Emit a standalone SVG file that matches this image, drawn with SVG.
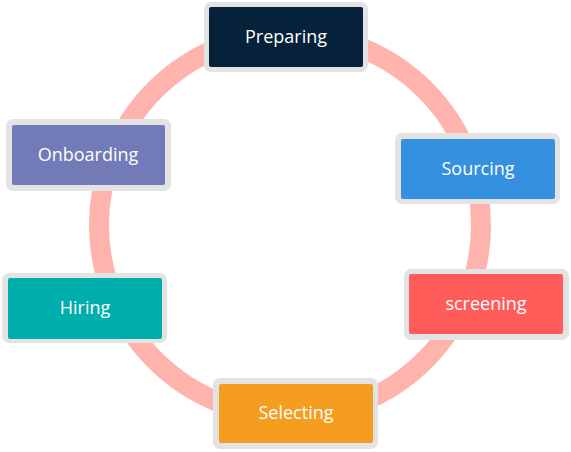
<svg xmlns="http://www.w3.org/2000/svg" width="571" height="452" viewBox="0 0 571 452">
<style>
.frame{fill:#e3e3e3}
.lbl{font-family:"Open Sans","Liberation Sans",sans-serif;font-size:18px;fill:#ffffff;text-anchor:middle}
</style>
<rect width="571" height="452" fill="#ffffff"/>
<g id="connectors">
<circle cx="290" cy="225" r="191" fill="none" stroke="#ffb3ad" stroke-width="20"/>
</g>
<g id="preparing">
<rect class="frame" x="204" y="2" width="164" height="70" rx="7"/>
<rect x="209" y="7" width="154" height="60" rx="2" fill="#06223b"/>
<text class="lbl" x="286" y="43">Preparing</text>
</g>
<g id="sourcing">
<rect class="frame" x="395" y="133" width="165" height="71" rx="7"/>
<rect x="401" y="139" width="154" height="60" rx="2" fill="#3590e0"/>
<text class="lbl" x="478" y="175">Sourcing</text>
</g>
<g id="screening">
<rect class="frame" x="404" y="269" width="165" height="71" rx="7"/>
<rect x="409" y="274" width="154" height="60" rx="2" fill="#ff5b59"/>
<text class="lbl" x="486" y="310">screening</text>
</g>
<g id="selecting">
<rect class="frame" x="213" y="378" width="165" height="71" rx="7"/>
<rect x="219" y="384" width="154" height="59" rx="2" fill="#f49d1e"/>
<text class="lbl" x="296" y="419">Selecting</text>
</g>
<g id="hiring">
<rect class="frame" x="2" y="273" width="165" height="70" rx="7"/>
<rect x="8" y="278" width="154" height="61" rx="2" fill="#00aeab"/>
<text class="lbl" x="85" y="314">Hiring</text>
</g>
<g id="onboarding">
<rect class="frame" x="6" y="119" width="165" height="72" rx="7"/>
<rect x="12" y="125" width="153" height="60" rx="2" fill="#727bb7"/>
<text class="lbl" x="88" y="161">Onboarding</text>
</g>
</svg>
